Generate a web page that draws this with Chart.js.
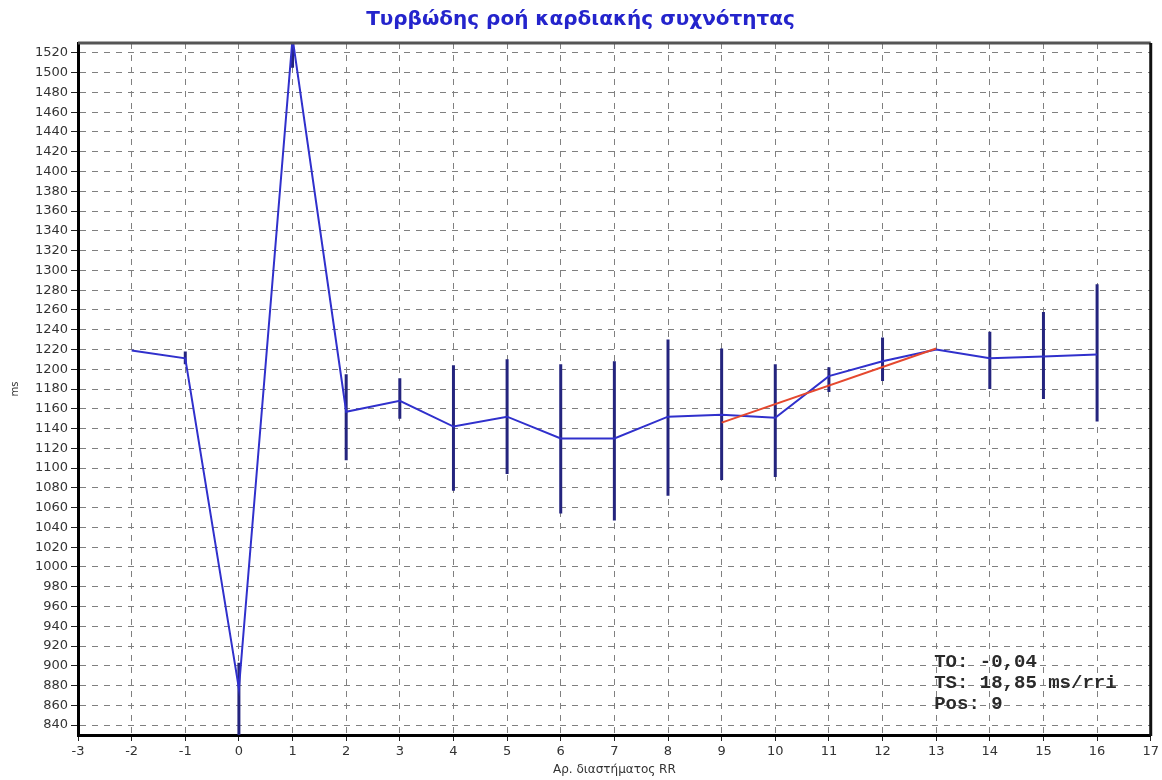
<!DOCTYPE html>
<html>
<head>
<meta charset="utf-8">
<script src="https://cdn.jsdelivr.net/npm/chart.js@4"></script>
<style>
html,body{margin:0;padding:0;background:#ffffff;}
#wrap{width:1162px;height:780px;position:relative;}
</style>
</head>
<body>
<div id="wrap"><canvas id="c" width="1162" height="780"></canvas></div>
<script>
// ---- data ----
const rrIndex = [-2, -1, 0, 1, 2, 3, 4, 5, 6, 7, 8, 9, 10, 11, 12, 13, 14, 15, 16];
const meanRR  = [1219, 1211, 877, 1535, 1157, 1168, 1142, 1152, 1130, 1130, 1152, 1154, 1151, 1193, 1208, 1220, 1211, 1213, 1215];
const errLow  = [null, 1205, 820, 1505, 1108, 1150, 1077, 1094, 1054, 1047, 1072, 1088, 1091, 1177, 1188, null, 1180, 1170, 1147];
const errHigh = [null, 1218, 903, 1560, 1195, 1191, 1204, 1210, 1205, 1208, 1230, 1221, 1205, 1202, 1232, null, 1238, 1258, 1286];
const fitX = [9, 13];
const fitY = [1146, 1221];
const yTickValues = [840, 860, 880, 900, 920, 940, 960, 980, 1000, 1020, 1040, 1060, 1080, 1100, 1120, 1140, 1160, 1180, 1200, 1220, 1240, 1260, 1280, 1300, 1320, 1340, 1360, 1380, 1400, 1420, 1440, 1460, 1480, 1500, 1520];
const xTickValues = [-3, -2, -1, 0, 1, 2, 3, 4, 5, 6, 7, 8, 9, 10, 11, 12, 13, 14, 15, 16, 17];
const statLines = ['TO: -0,04', 'TS: 18,85 ms/rri', 'Pos: 9'];
const titleText = 'Τυρβώδης ροή καρδιακής συχνότητας';
const xTitle = 'Αρ. διαστήματος RR';
const yTitle = 'ms';

// ---- build datasets ----
const meanData = rrIndex.map((x, i) => ({x: x, y: meanRR[i]}));
const errData = [];
rrIndex.forEach((x, i) => {
  if (errLow[i] !== null && errHigh[i] !== null) {
    errData.push({x: x, y: errLow[i]}, {x: x, y: errHigh[i]}, {x: x, y: null});
  }
});
const fitData = fitX.map((x, i) => ({x: x, y: fitY[i]}));

const framePlugin = {
  id: 'frame',
  afterDatasetsDraw(chart) {
    const a = chart.chartArea, ctx = chart.ctx;
    ctx.save();
    ctx.lineWidth = 3;
    ctx.strokeStyle = '#555555';
    ctx.beginPath(); ctx.moveTo(a.left, a.top); ctx.lineTo(a.right, a.top); ctx.stroke();
    ctx.strokeStyle = '#111111';
    ctx.beginPath(); ctx.moveTo(a.right, a.top); ctx.lineTo(a.right, a.bottom + 1); ctx.stroke();
    ctx.restore();
  }
};

const statsPlugin = {
  id: 'stats',
  afterDatasetsDraw(chart) {
    const xs = chart.scales.x, ys = chart.scales.y, ctx = chart.ctx;
    const x0 = xs.getPixelForValue(13) - 2;
    const yVals = [904, 882, 861];
    ctx.save();
    ctx.font = 'bold 19px "Liberation Mono", "DejaVu Sans Mono", monospace';
    ctx.fillStyle = '#2a2a2a';
    ctx.textBaseline = 'middle';
    ctx.textAlign = 'left';
    statLines.forEach((t, i) => {
      ctx.fillText(t, x0, ys.getPixelForValue(yVals[i]));
    });
    ctx.restore();
  }
};

new Chart(document.getElementById('c'), {
  type: 'line',
  data: {
    datasets: [
      {
        label: 'fit',
        data: fitData,
        borderColor: '#e5482e',
        borderWidth: 2,
        pointRadius: 0,
        fill: false,
        tension: 0,
        clip: 0
      },
      {
        label: 'mean',
        data: meanData,
        borderColor: '#3030cc',
        borderWidth: 2,
        pointRadius: 0,
        fill: false,
        tension: 0,
        clip: 0
      },
      {
        label: 'sd',
        data: errData,
        borderColor: '#24247e',
        borderWidth: 3,
        pointRadius: 0,
        fill: false,
        spanGaps: false,
        tension: 0,
        clip: 0
      }
    ]
  },
  options: {
    responsive: false,
    animation: false,
    layout: {padding: {left: 8, right: 9, top: 0, bottom: 0}},
    plugins: {
      legend: {display: false},
      tooltip: {enabled: false},
      title: {
        display: true,
        text: titleText,
        color: '#2424cc',
        font: {family: '"DejaVu Sans", sans-serif', size: 20, weight: 'bold', lineHeight: 1.2},
        padding: {top: 8, bottom: 11}
      }
    },
    scales: {
      x: {
        type: 'linear',
        min: -3,
        max: 17,
        afterBuildTicks(scale) { scale.ticks = xTickValues.map(v => ({value: v})); },
        afterFit(scale) { scale.height = 45; },
        ticks: {
          color: '#333333',
          font: {family: '"DejaVu Sans", sans-serif', size: 13},
          padding: 3,
          maxRotation: 0,
          autoSkip: false,
          callback: (v) => String(v)
        },
        grid: {
          color: '#808080',
          lineWidth: 1,
          drawTicks: true,
          tickLength: 6,
          tickColor: '#222222',
          tickBorderDash: [],
          borderDash: [6, 6]
        },
        border: {display: true, color: '#000000', width: 3, dash: [6, 6]},
        title: {
          display: true,
          text: xTitle,
          color: '#333333',
          font: {family: '"DejaVu Sans", sans-serif', size: 12},
          padding: {top: 0, bottom: 3}
        }
      },
      y: {
        type: 'linear',
        min: 830,
        max: 1530,
        afterBuildTicks(scale) { scale.ticks = yTickValues.map(v => ({value: v})); },
        afterFit(scale) { scale.width = 70; },
        ticks: {
          color: '#333333',
          font: {family: '"DejaVu Sans", sans-serif', size: 13},
          padding: 3,
          autoSkip: false,
          callback: (v) => String(v)
        },
        grid: {
          color: '#808080',
          lineWidth: 1,
          drawTicks: true,
          tickLength: 7,
          tickColor: '#222222',
          tickBorderDash: [],
          borderDash: [6, 6]
        },
        border: {display: true, color: '#000000', width: 3, dash: [6, 6]},
        title: {
          display: true,
          text: yTitle,
          color: '#333333',
          font: {family: '"DejaVu Sans", sans-serif', size: 10},
          padding: {top: 1, bottom: 0}
        }
      }
    }
  },
  plugins: [framePlugin, statsPlugin]
});
</script>
</body>
</html>
